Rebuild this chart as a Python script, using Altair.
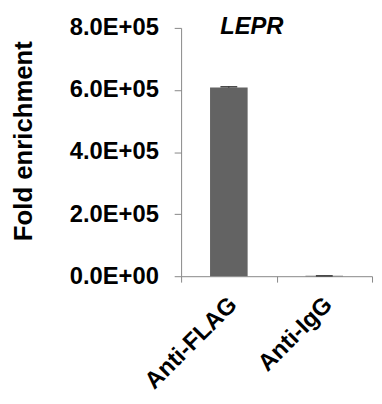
import altair as alt
import pandas as pd

categories = ["Anti-FLAG", "Anti-IgG"]
values = [608000, 1200]
errors = [2500, 100]

df = pd.DataFrame({"cat": categories, "val": values, "err": errors})
df["hi"] = df["val"] + df["err"]

FONT = "Liberation Sans"

x_enc = alt.X(
    "cat:N",
    sort=categories,
    scale=alt.Scale(paddingInner=0, paddingOuter=0),
    axis=alt.Axis(
        title=None,
        labelAngle=-45,
        labelAlign="right",
        labelBaseline="middle",
        labelFont=FONT,
        labelFontSize=24,
        labelFontWeight="bold",
        labelColor="black",
        labelPadding=19,
        labelOffset=4,
        tickBand="extent",
        tickSize=6,
        tickColor="#888888",
        domainColor="#888888",
        grid=False,
    ),
)

y_scale = alt.Scale(domain=[0, 800000], nice=False, zero=True)

y_axis = alt.Axis(
    title="Fold enrichment",
    titleFont=FONT,
    titleFontSize=26,
    titleFontWeight="bold",
    titleColor="black",
    titleAngle=-90,
    titleAlign="center",
    titleBaseline="alphabetic",
    titleX=-151,
    titleY=114,
    values=[0, 200000, 400000, 600000, 800000],
    labelExpr="datum.value == 0 ? '0.0E+00' : format(datum.value / 100000, '.1f') + 'E+05'",
    labelFont=FONT,
    labelFontSize=24,
    labelFontWeight="bold",
    labelColor="black",
    labelPadding=16,
    tickSize=7,
    tickColor="#888888",
    domainColor="#888888",
    grid=False,
)

base = alt.Chart(df)

bars = base.mark_bar(color="#636363", width=38).encode(
    x=x_enc,
    y=alt.Y("val:Q", scale=y_scale, axis=y_axis),
)

rule = base.mark_rule(color="black", strokeWidth=1).encode(
    x=alt.X("cat:N", sort=categories),
    y="val:Q",
    y2="hi:Q",
)

cap = base.mark_tick(color="black", size=17, thickness=1.5).encode(
    x=alt.X("cat:N", sort=categories),
    y=alt.Y("hi:Q"),
)

chart = (
    alt.layer(bars, rule, cap)
    .properties(
        width=193,
        height=251,
        autosize=alt.AutoSizeParams(type="none"),
        padding={"left": 175, "top": 18, "right": 2, "bottom": 120},
        title=alt.TitleParams(
            "LEPR",
            font=FONT,
            fontSize=24,
            fontWeight="bold",
            fontStyle="italic",
            color="black",
            anchor="middle",
            dx=-25,
            offset=-23,
        ),
    )
    .configure_view(stroke=None)
)

chart.save("out.html", embed_options={"renderer": "svg", "actions": False})
